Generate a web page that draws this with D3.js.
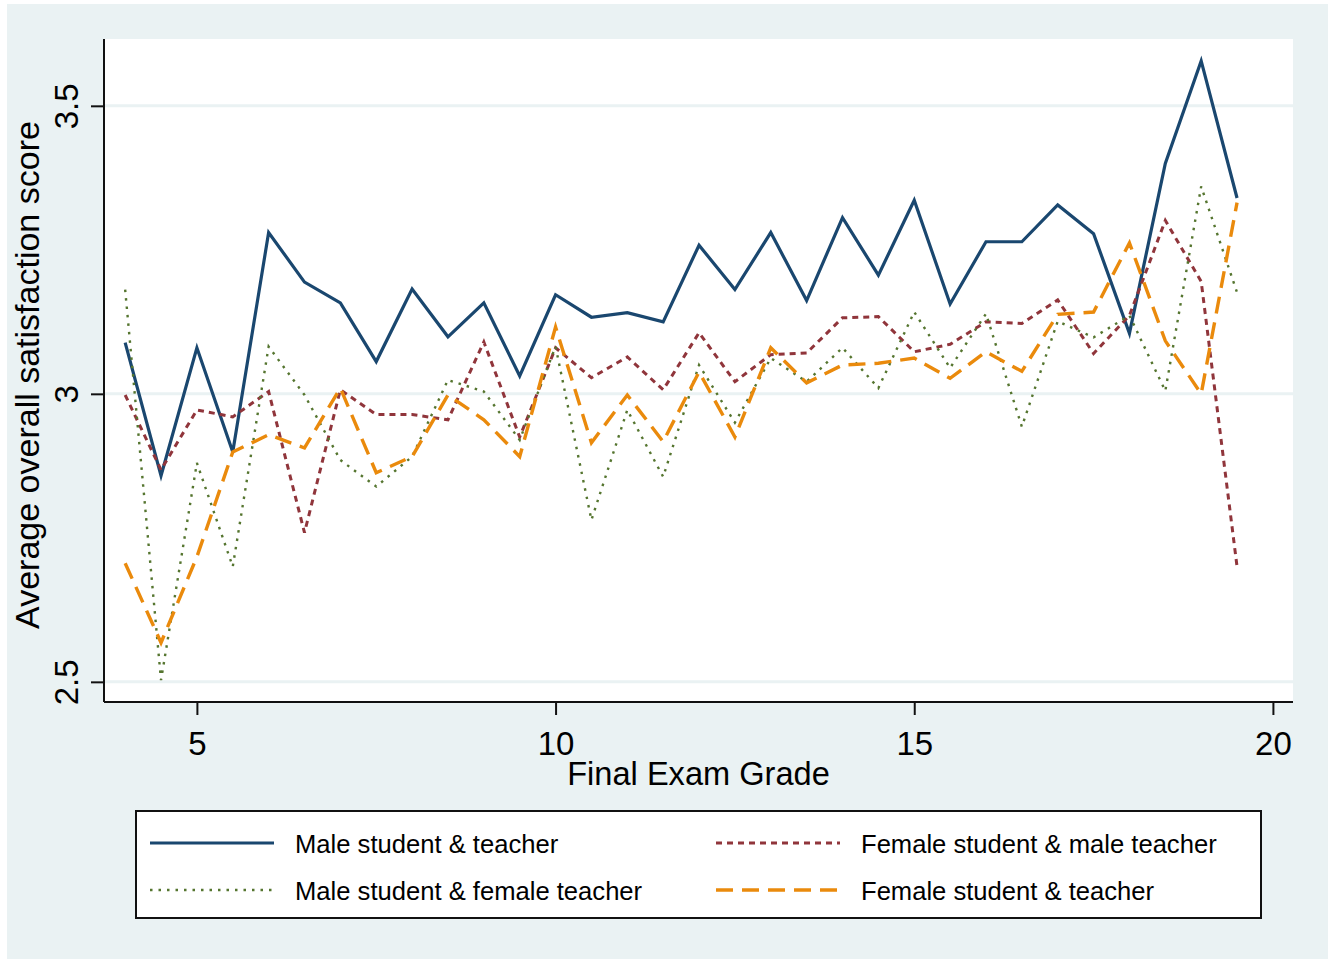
<!DOCTYPE html>
<html lang="en">
<head>
<meta charset="UTF-8">
<title>Average overall satisfaction score by final exam grade</title>
<style>
  body { margin: 0; background: #fff; }
  svg { display: block; font-family: "Liberation Sans", Arial, sans-serif; }
</style>
</head>
<body>
<div id="chart"></div>
<script src="https://d3js.org/d3.v7.min.js"></script>
<script>
// final exam grade (x)
const grades = [4, 4.5, 5, 5.5, 6, 6.5, 7, 7.5, 8, 8.5, 9, 9.5, 10, 10.5, 11, 11.5,
                12, 12.5, 13, 13.5, 14, 14.5, 15, 15.5, 16, 16.5, 17, 17.5, 18, 18.5, 19, 19.5];

// average overall satisfaction score, one array per group
const maleMale = [3.089, 2.858, 3.080, 2.899, 3.280, 3.194, 3.158, 3.056, 3.182, 3.099, 3.158, 3.031,
                  3.172, 3.133, 3.141, 3.125, 3.258, 3.181, 3.280, 3.162, 3.306, 3.206, 3.336, 3.156,
                  3.264, 3.264, 3.328, 3.278, 3.105, 3.400, 3.578, 3.340];
const femaleMale = [2.998, 2.868, 2.972, 2.960, 3.004, 2.759, 3.007, 2.964, 2.964, 2.955, 3.090, 2.925,
                    3.080, 3.028, 3.064, 3.007, 3.106, 3.021, 3.068, 3.071, 3.132, 3.134, 3.073, 3.086,
                    3.125, 3.122, 3.163, 3.070, 3.136, 3.301, 3.195, 2.700];
const maleFemale = [3.181, 2.503, 2.880, 2.700, 3.082, 2.998, 2.885, 2.839, 2.891, 3.024, 3.004, 2.920,
                    3.082, 2.781, 2.972, 2.856, 3.050, 2.950, 3.062, 3.021, 3.080, 3.010, 3.142, 3.045,
                    3.139, 2.943, 3.126, 3.098, 3.136, 3.005, 3.360, 3.176];
const femaleFemale = [2.706, 2.568, 2.717, 2.899, 2.929, 2.906, 3.010, 2.863, 2.891, 2.998, 2.955, 2.891,
                      3.116, 2.915, 2.998, 2.917, 3.038, 2.925, 3.080, 3.019, 3.050, 3.053, 3.062, 3.027,
                      3.073, 3.039, 3.138, 3.142, 3.262, 3.092, 3.000, 3.332];

const xTicks = [5, 10, 15, 20];
const yTicks = [2.5, 3, 3.5];

const series = [
  { name: "Male student & teacher", values: maleMale, color: "#1a476f", width: 3.2, dash: null },
  { name: "Female student & male teacher", values: femaleMale, color: "#90353b", width: 3, dash: "6,5" },
  { name: "Male student & female teacher", values: maleFemale, color: "#55752f", width: 2.4, dash: "2.5,6" },
  { name: "Female student & teacher", values: femaleFemale, color: "#ea8a0c", width: 3.4, dash: "17,9" }
];

const W = 1336, H = 959;
const plot = { left: 104, right: 1293, top: 39, bottom: 702 };

const svg = d3.select("#chart").append("svg")
    .attr("width", W)
    .attr("height", H);

// stata style background
svg.append("rect")
    .attr("x", 7).attr("y", 4)
    .attr("width", 1321).attr("height", 955)
    .attr("fill", "#eaf2f3");

svg.append("rect")
    .attr("x", plot.left).attr("y", plot.top)
    .attr("width", plot.right - plot.left).attr("height", plot.bottom - plot.top)
    .attr("fill", "#fff");

const x = d3.scaleLinear().domain([3.705, 20.28]).range([plot.left, plot.right]);
const y = d3.scaleLinear().domain([2.465, 3.616]).range([plot.bottom, plot.top]);

// gridlines
svg.append("g")
  .selectAll("line")
  .data(yTicks)
  .join("line")
    .attr("x1", plot.left + 1).attr("x2", plot.right)
    .attr("y1", d => y(d)).attr("y2", d => y(d))
    .attr("stroke", "#eaf2f3")
    .attr("stroke-width", 3);

// lines
const line = d3.line()
    .x((d, i) => x(grades[i]))
    .y(d => y(d));

svg.append("g")
  .selectAll("path")
  .data(series)
  .join("path")
    .attr("d", d => line(d.values))
    .attr("fill", "none")
    .attr("stroke", d => d.color)
    .attr("stroke-width", d => d.width)
    .attr("stroke-dasharray", d => d.dash)
    .attr("stroke-linejoin", "miter");

// y axis
const yAxis = svg.append("g")
    .attr("transform", `translate(${plot.left},0)`)
    .call(d3.axisLeft(y).tickValues(yTicks).tickSize(13).tickFormat(d3.format("")));
yAxis.select(".domain")
    .attr("d", `M0,${plot.top}V${plot.bottom}`)
    .attr("stroke", "#111").attr("stroke-width", 2);
yAxis.selectAll(".tick line").attr("stroke", "#111").attr("stroke-width", 2);
yAxis.selectAll(".tick text")
    .attr("x", null).attr("dy", null)
    .attr("transform", "translate(-26,0) rotate(-90)")
    .attr("text-anchor", "middle")
    .attr("font-size", 33)
    .attr("fill", "#000");

// x axis
const xAxis = svg.append("g")
    .attr("transform", `translate(0,${plot.bottom})`)
    .call(d3.axisBottom(x).tickValues(xTicks).tickSize(13));
xAxis.select(".domain")
    .attr("d", `M${plot.left},0H${plot.right}`)
    .attr("stroke", "#111").attr("stroke-width", 2);
xAxis.selectAll(".tick line").attr("stroke", "#111").attr("stroke-width", 2);
xAxis.selectAll(".tick text")
    .attr("y", 53).attr("dy", null)
    .attr("font-size", 33)
    .attr("fill", "#000");

// axis titles
svg.append("text")
    .attr("x", (plot.left + plot.right) / 2)
    .attr("y", 785)
    .attr("text-anchor", "middle")
    .attr("font-size", 32.6)
    .text("Final Exam Grade");

svg.append("text")
    .attr("transform", `translate(39,375) rotate(-90)`)
    .attr("text-anchor", "middle")
    .attr("font-size", 34)
    .text("Average overall satisfaction score");

// legend
const legend = svg.append("g");
legend.append("rect")
    .attr("x", 136).attr("y", 811)
    .attr("width", 1125).attr("height", 107)
    .attr("fill", "#fff")
    .attr("stroke", "#111")
    .attr("stroke-width", 2);

const legendPos = [
  { lx: 150, ty: 843 },
  { lx: 716, ty: 843 },
  { lx: 150, ty: 890 },
  { lx: 716, ty: 890 }
];

const item = legend.selectAll("g.item")
  .data(series)
  .join("g")
    .attr("class", "item")
    .attr("transform", (d, i) => `translate(${legendPos[i].lx},${legendPos[i].ty})`);

item.append("line")
    .attr("x1", 0).attr("x2", 124)
    .attr("stroke", d => d.color)
    .attr("stroke-width", d => d.width)
    .attr("stroke-dasharray", d => d.dash);

item.append("text")
    .attr("x", 145)
    .attr("y", 10)
    .attr("font-size", 25.6)
    .attr("fill", "#000")
    .text(d => d.name);
</script>
</body>
</html>
